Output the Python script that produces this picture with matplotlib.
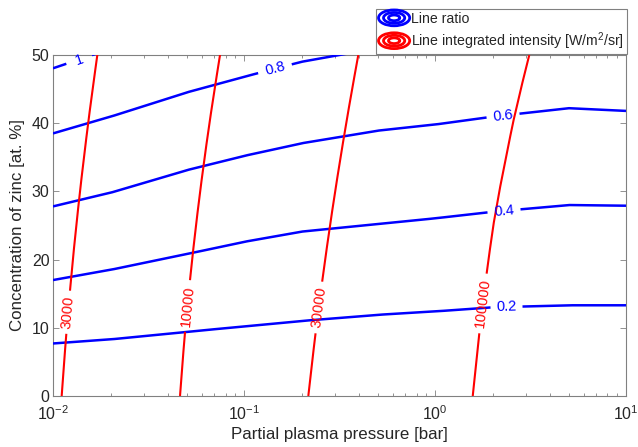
import numpy as np
import matplotlib
matplotlib.use("Agg")
import matplotlib.pyplot as plt
from matplotlib.legend_handler import HandlerBase
from matplotlib.patches import Ellipse
from matplotlib.lines import Line2D

plt.rcParams['font.family'] = ['Liberation Sans', 'DejaVu Sans']
plt.rcParams['mathtext.default'] = 'regular'

# line ratio contours: concentration vs pressure on the pressure grid
pressure = [0.01, 0.02, 0.05, 0.1, 0.2, 0.5, 1, 2, 5, 10]
ratio_levels = [0.2, 0.4, 0.6, 0.8, 1]
ratio_02 = [7.7, 8.3, 9.4, 10.2, 11.0, 11.9, 12.4, 13.0, 13.3, 13.3]
ratio_04 = [17.0, 18.5, 20.8, 22.6, 24.1, 25.2, 26.05, 27.0, 28.0, 27.9]
ratio_06 = [27.8, 29.8, 33.1, 35.2, 37.05, 38.9, 39.8, 40.95, 42.2, 41.8]
ratio_08 = [38.5, 40.95, 44.5, 46.8, 49.0, 51.0]
ratio_10 = [48.05, 50.9]

# intensity contours: pressure vs concentration on the concentration grid
conc = [0, 5, 10, 15, 20, 25, 30, 35, 40, 45, 50]
intensity_levels = [3000, 10000, 30000, 100000]
int_3000 = [0.0111, 0.01143, 0.01181, 0.01223, 0.0127, 0.01324,
            0.01384, 0.01452, 0.01527, 0.01612, 0.01706]
int_10000 = [0.04623, 0.04766, 0.04933, 0.05127, 0.05349, 0.05603,
             0.05891, 0.0622, 0.0659, 0.07014, 0.07488]
int_30000 = [0.2171, 0.2273, 0.2388, 0.2516, 0.2659, 0.282,
             0.300, 0.3202, 0.3428, 0.3681, 0.3966]
int_100000 = [1.576, 1.646, 1.718, 1.805, 1.905, 2.019,
              2.170, 2.353, 2.557, 2.813, 3.116]

ratio_curves = [ratio_02, ratio_04, ratio_06, ratio_08, ratio_10]
intensity_curves = [int_3000, int_10000, int_30000, int_100000]

# where the inline labels sit (pressure for blue, concentration for red)
ratio_label_at = [2.37, 2.3, 2.27, 0.145, 0.0137]
intensity_label_at = [12.3, 13.2, 13.0, 13.6]

BLUE = '#0000ff'
RED = '#ff0000'
GRAY = '#262626'

fig = plt.figure(figsize=(6.38, 4.47), dpi=100)
ax = fig.add_axes([0.0831, 0.1141, 0.8981, 0.7629])
ax.set_xscale('log')
ax.set_xlim(1e-2, 1e1)
ax.set_ylim(0, 50)
renderer = fig.canvas.get_renderer()


def label_curve(xs, ys, pos, text, color, lw, along_x, pad):
    # dense polyline in display space, straight between the given vertices
    pts = ax.transData.transform(np.column_stack([xs, ys]))
    dense = []
    for a, b in zip(pts[:-1], pts[1:]):
        n = max(int(np.hypot(*(b - a)) / 0.5), 2)
        t = np.linspace(0, 1, n, endpoint=False)[:, None]
        dense.append(a + (b - a) * t)
    dense.append(pts[-1:])
    dense = np.vstack(dense)

    if along_x:
        ly = np.interp(np.log10(pos), np.log10(xs), ys)
        c = ax.transData.transform([[pos, ly]])[0]
    else:
        lx = 10 ** np.interp(pos, ys, np.log10(xs))
        c = ax.transData.transform([[lx, pos]])[0]

    i = np.argmin(np.hypot(*(dense - c).T))
    j0, j1 = max(i - 8, 0), min(i + 8, len(dense) - 1)
    dx, dy = dense[j1] - dense[j0]
    ang = np.degrees(np.arctan2(dy, dx))
    if ang > 90:
        ang -= 180
    elif ang < -90:
        ang += 180

    cdata = ax.transData.inverted().transform([c])[0]
    t = ax.text(cdata[0], cdata[1], text, color=color, fontsize=10.5,
                rotation=ang, rotation_mode='anchor', ha='center', va='center',
                zorder=5)
    bb = t.get_window_extent(renderer)
    half = max(bb.width, bb.height) / 2 + pad

    d = np.hypot(*(dense - c).T)
    dense[d < half] = np.nan
    data = ax.transData.inverted().transform(dense)
    ax.plot(data[:, 0], data[:, 1], color=color, lw=lw, zorder=3,
            solid_capstyle='butt')


for lev, ys, lp in zip(ratio_levels, ratio_curves, ratio_label_at):
    label_curve(pressure[:len(ys)], ys, lp, '%g' % lev, BLUE, 1.8, True, 5.5)

for lev, xs, lp in zip(intensity_levels, intensity_curves, intensity_label_at):
    label_curve(xs, conc, lp, '%d' % lev, RED, 1.5, False, 4.5)

ax.set_yticks([0, 10, 20, 30, 40, 50])
ax.tick_params(which='both', direction='in', top=True, right=True,
               colors='#808080', labelcolor=GRAY, labelsize=11.5)
ax.tick_params(which='major', length=4.5, width=0.6)
ax.tick_params(which='minor', length=2.5, width=0.6)
ax.tick_params(axis='x', pad=6)
ax.tick_params(axis='y', pad=2.5)
for s in ax.spines.values():
    s.set_color('#808080')
    s.set_linewidth(0.8)

ax.set_xlabel('Partial plasma pressure [bar]', fontsize=12.2, color=GRAY,
              labelpad=3)
ax.set_ylabel('Concentration of zinc [at. %]', fontsize=12.2, color=GRAY,
              labelpad=5)


class RingHandler(HandlerBase):
    # concentric ellipses as a contour legend icon
    def create_artists(self, legend, orig_handle, xdescent, ydescent,
                       width, height, fontsize, trans):
        cx = width / 2 - xdescent
        cy = height / 2 - ydescent
        arts = []
        for k in (1.0, 0.68, 0.36):
            e = Ellipse((cx, cy), width * k, height * 1.4 * k, fill=False,
                        edgecolor=orig_handle.get_color(), lw=2.0,
                        transform=trans)
            arts.append(e)
        return arts


handles = [Line2D([], [], color=BLUE), Line2D([], [], color=RED)]
names = ['Line ratio', 'Line integrated intensity [W/m$^2$/sr]']
leg = fig.legend(handles, names, loc='upper right',
                 bbox_to_anchor=(0.9828, 0.98), fontsize=10.2,
                 handler_map={Line2D: RingHandler()}, handlelength=2.2,
                 handleheight=0.85, handletextpad=0.12, borderpad=0.2,
                 labelspacing=0.3, fancybox=False, framealpha=1,
                 edgecolor='#808080', borderaxespad=0)
leg.get_frame().set_linewidth(0.8)
for t in leg.get_texts():
    t.set_color(GRAY)

fig.savefig('out.png', dpi=100)
